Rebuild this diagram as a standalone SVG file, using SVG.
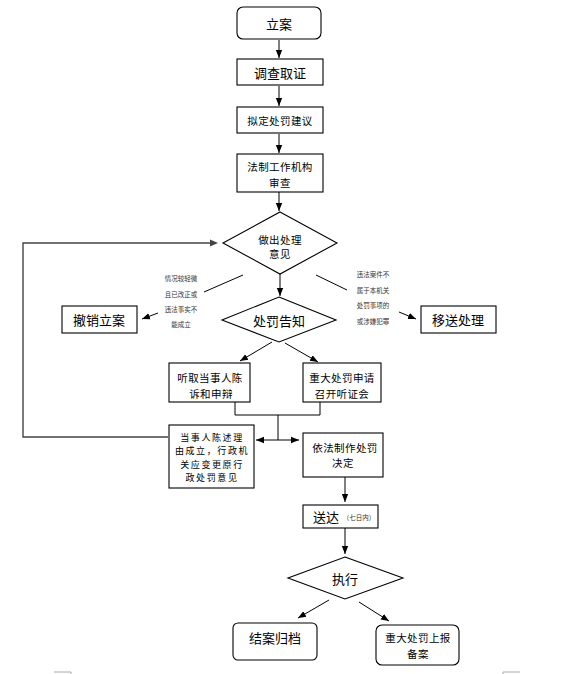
<svg xmlns="http://www.w3.org/2000/svg" width="576" height="674" viewBox="0 0 576 674">
<defs>
<marker id="ah" markerUnits="userSpaceOnUse" markerWidth="8" markerHeight="8" viewBox="0 0 8 8" refX="8" refY="4" orient="auto">
<path d="M0,0.8 L8,4 L0,7.2 Z" fill="#000"/>
</marker>
<style>
.b{fill:#fff;stroke:#000;stroke-width:1.1}
.t{font-family:"Noto Sans CJK SC","Liberation Sans",sans-serif;fill:#000;text-anchor:middle;dominant-baseline:central}
.L{font-size:13px}
.M{font-size:10.5px;letter-spacing:0.4px}
.N{font-size:9px;letter-spacing:1.6px}
.S{font-size:6.5px;fill:#333}
.c{fill:none;stroke:#000;stroke-width:1}
.a{marker-end:url(#ah)}
.g{fill:none;stroke:#444;stroke-width:1.4}
.k{fill:none;stroke:#aaa;stroke-width:1}
</style>
</defs>
<g id="connectors">
<line class="c a" x1="279" y1="40" x2="279" y2="58"/>
<line class="c a" x1="279" y1="86" x2="279" y2="106"/>
<line class="c a" x1="279" y1="134" x2="279" y2="153"/>
<line class="c a" x1="279" y1="192" x2="279" y2="211"/>
<polyline class="g" points="168,437 23,437 23,243 210,243"/>
<path d="M210,239.5 L218,243 L210,246.5 Z" fill="#444"/>
<line class="c a" x1="280" y1="274" x2="280" y2="296"/>
<line class="c" x1="243" y1="275" x2="204" y2="292"/>
<line class="c a" x1="158" y1="313" x2="142" y2="319"/>
<line class="c" x1="316" y1="275" x2="347" y2="290"/>
<line class="c a" x1="399" y1="312" x2="416" y2="319"/>
<line class="c a" x1="272" y1="342" x2="240" y2="361"/>
<line class="c a" x1="285" y1="343" x2="318" y2="362"/>
<polyline class="c" points="235,402 235,415 320,415 320,402"/>
<line class="c" x1="278" y1="415" x2="278" y2="440"/>
<line class="c a" x1="278" y1="440" x2="256" y2="440"/>
<line class="c a" x1="278" y1="440" x2="299" y2="440"/>
<line class="c a" x1="345" y1="477" x2="345" y2="502"/>
<line class="c a" x1="345" y1="528" x2="345" y2="554"/>
<line class="c a" x1="329" y1="600" x2="298" y2="618"/>
<line class="c a" x1="359" y1="602" x2="389" y2="621"/>
</g>
<g id="n_lian"><rect class="b" x="237" y="7" width="84" height="32" rx="6" stroke-width="1.4"/><text class="t L" x="279" y="23">立案</text></g>
<g id="n_diaocha"><rect class="b" x="237" y="59" width="86" height="26"/><text class="t L" x="280" y="72">调查取证</text></g>
<g id="n_niding"><rect class="b" x="237" y="107" width="86" height="26"/><text class="t M" x="280" y="120">拟定处罚建议</text></g>
<g id="n_fazhi"><rect class="b" x="237" y="154" width="86" height="38"/><text class="t M" x="280" y="166">法制工作机构</text><text class="t M" x="280" y="182">审查</text></g>
<g id="n_zuochu"><polygon class="b" points="280,212 337,243 280,274 223,243"/><text class="t M" x="280" y="239">做出处理</text><text class="t M" x="280" y="253">意见</text></g>
<g id="lbl_left"><text class="t S" x="181" y="278">情况较轻微</text><text class="t S" x="181" y="294">且已改正或</text><text class="t S" x="181" y="309">违法事实不</text><text class="t S" x="181" y="324">能成立</text></g>
<g id="lbl_right"><text class="t S" x="373" y="274">违法案件不</text><text class="t S" x="373" y="290">属于本机关</text><text class="t S" x="373" y="305">处罚事项的</text><text class="t S" x="373" y="321">或涉嫌犯罪</text></g>
<g id="n_chexiao"><rect class="b" x="62" y="306" width="75" height="27"/><text class="t L" x="99" y="319">撤销立案</text></g>
<g id="n_yisong"><rect class="b" x="421" y="306" width="75" height="27"/><text class="t L" x="458" y="319">移送处理</text></g>
<g id="n_gaozhi"><polygon class="b" points="279,297 336,320 279,342 222,320"/><text class="t L" x="279" y="320">处罚告知</text></g>
<g id="n_tingqu"><rect class="b" x="169" y="363" width="81" height="39"/><text class="t M" x="210" y="377">听取当事人陈</text><text class="t M" x="211" y="393">诉和申辩</text></g>
<g id="n_tingzheng"><rect class="b" x="303" y="363" width="78" height="39"/><text class="t M" x="342" y="377">重大处罚申请</text><text class="t M" x="342" y="393">召开听证会</text></g>
<g id="n_chengli"><rect class="b" x="169" y="425" width="85" height="63"/><text class="t N" x="212" y="437">当事人陈述理</text><text class="t N" x="212" y="450.5">由成立，行政机</text><text class="t N" x="212" y="464">关应变更原行</text><text class="t N" x="212" y="477">政处罚意见</text></g>
<g id="n_yifa"><rect class="b" x="303" y="433" width="80" height="44"/><text class="t M" x="345" y="447">依法制作处罚</text><text class="t M" x="343" y="462">决定</text></g>
<g id="n_songda"><rect class="b" x="303" y="505" width="75" height="23"/><text class="t L" x="326" y="516">送达</text><text class="t S" x="359" y="517">（七日内）</text></g>
<g id="n_zhixing"><polygon class="b" points="345,557 403,578 345,599 288,578"/><text class="t L" x="345" y="578">执行</text></g>
<g id="n_jiean"><rect class="b" x="233" y="623" width="84" height="37" rx="5" stroke-width="1.3"/><text class="t L" x="275" y="637">结案归档</text></g>
<g id="n_baobei"><rect class="b" x="376" y="625" width="83" height="40" rx="6" stroke-width="1.3"/><text class="t M" x="418" y="637">重大处罚上报</text><text class="t M" x="418" y="653">备案</text></g>
<g id="marks"><polyline class="k" points="54,672 71,672 71,674"/><polyline class="k" points="503,674 503,672 520,672"/></g>
</svg>
